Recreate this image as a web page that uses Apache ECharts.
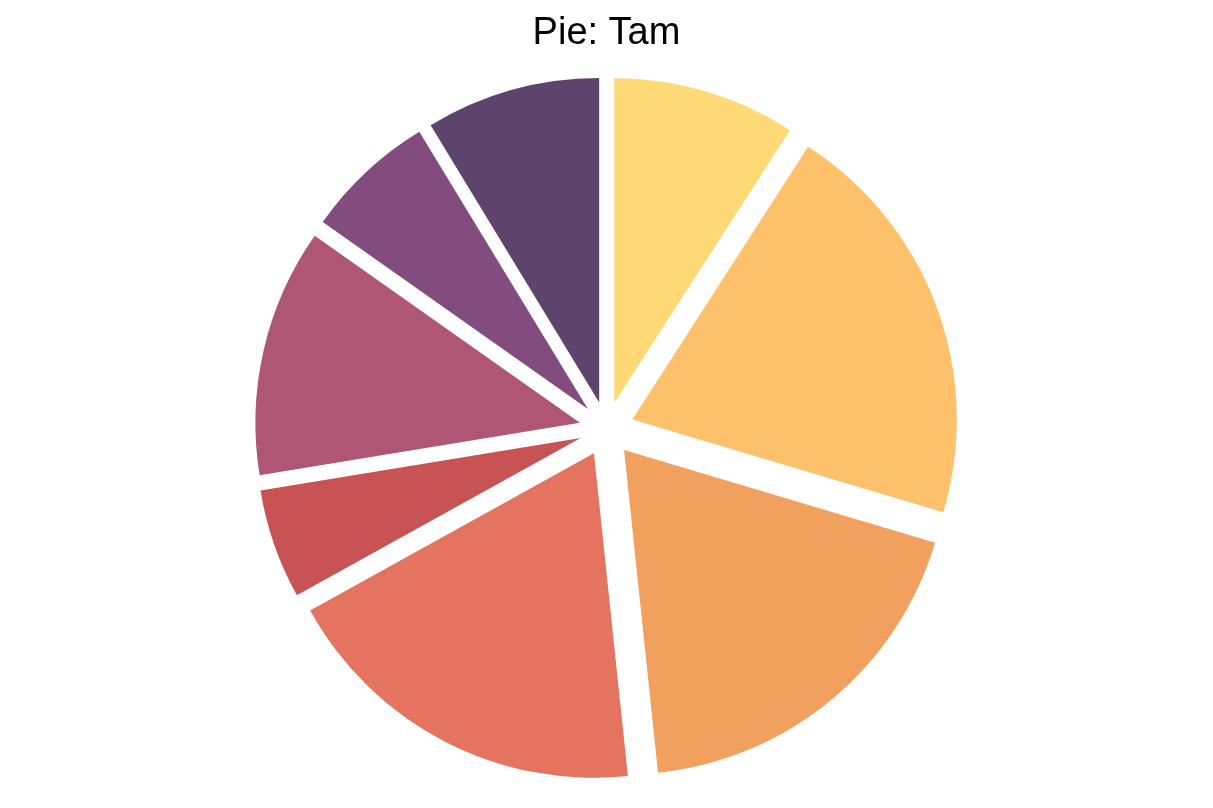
<!DOCTYPE html>
<html>
<head>
<meta charset="utf-8">
<script src="https://cdn.jsdelivr.net/npm/echarts@6/dist/echarts.min.js"></script>
<style>
  html, body { margin: 0; padding: 0; background: #ffffff; }
  #chart { width: 1213px; height: 808px; }
</style>
</head>
<body>
<div id="chart"></div>
<script>
const titleText = 'Pie: Tam';
const categories = ['A', 'B', 'C', 'D', 'E', 'F', 'G', 'H'];
const values = [32.8, 73.8, 67.4, 67.0, 19.7, 44.5, 23.5, 31.3];
const colors = ['#FED976', '#FCC16A', '#F2A05E', '#E4735F', '#C85354', '#B05675', '#834C7E', '#5E446D'];

const chart = echarts.init(document.getElementById('chart'), null, { renderer: 'canvas' });
const data = categories.map((c, i) => ({
  name: c,
  value: values[i],
  selected: true,
  itemStyle: { color: colors[i] }
}));

chart.setOption({
  animation: false,
  backgroundColor: '#ffffff',
  title: {
    text: titleText,
    left: 'center',
    top: 10,
    textStyle: {
      fontFamily: 'Liberation Sans, Arial, sans-serif',
      fontSize: 38,
      fontWeight: 'normal',
      color: '#000000'
    }
  },
  series: [{
    type: 'pie',
    center: [606.6, 429],
    radius: [0, 324.5],
    startAngle: 90,
    clockwise: true,
    selectedMode: 'multiple',
    selectedOffset: 27.4,
    avoidLabelOverlap: false,
    label: { show: false },
    labelLine: { show: false },
    itemStyle: { borderWidth: 0 },
    emphasis: { disabled: true },
    data: data
  }]
});
</script>
</body>
</html>
